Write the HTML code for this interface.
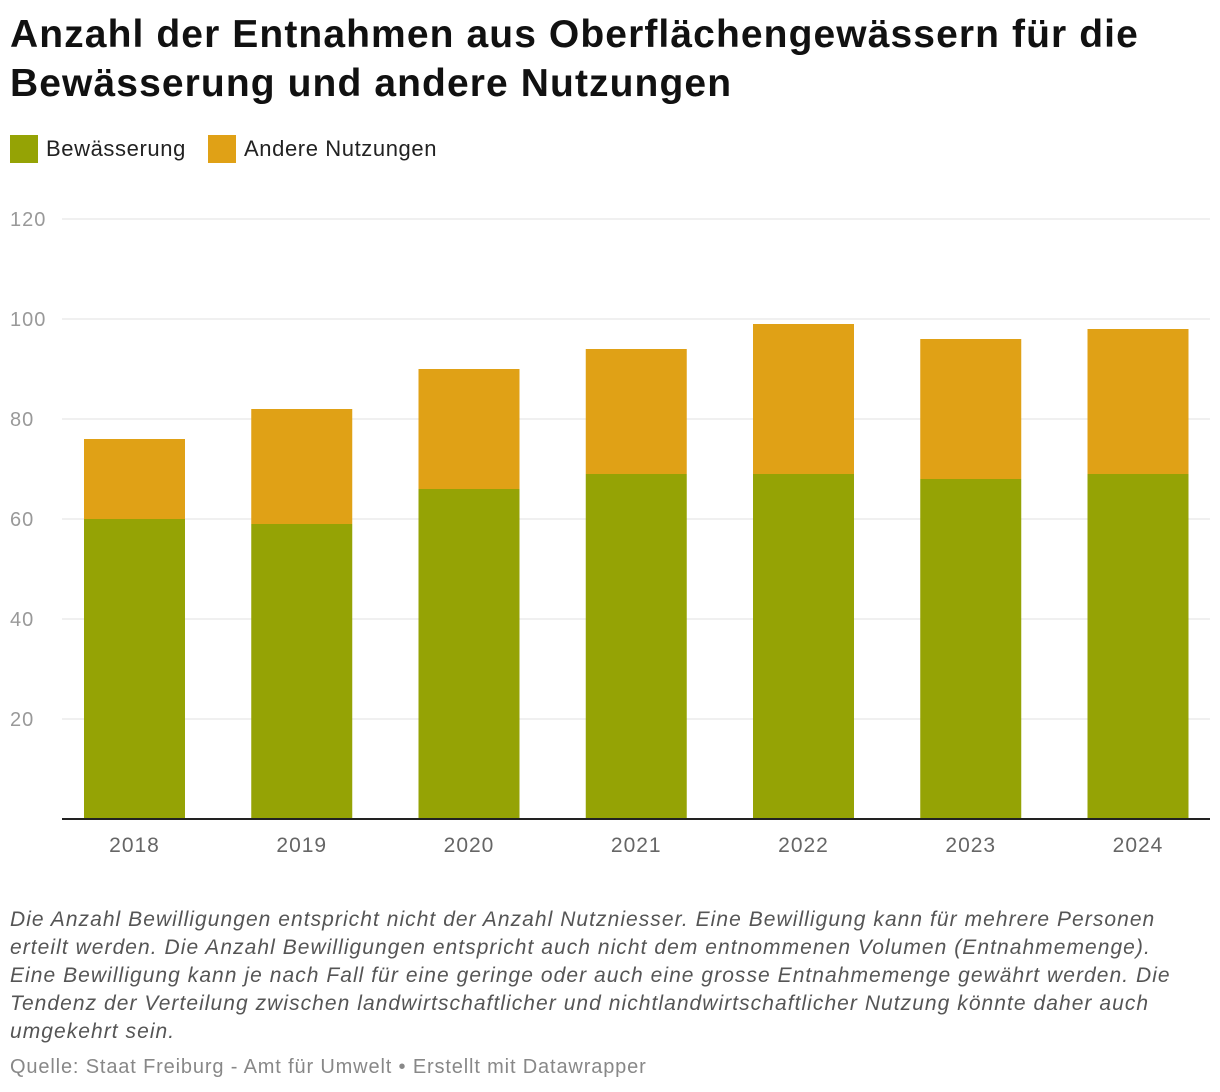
<!DOCTYPE html>
<html><head><meta charset="utf-8"><style>
body{margin:0;width:1220px;height:1092px;background:#fff;font-family:"Liberation Sans",sans-serif;position:relative;overflow:hidden}
h1{position:absolute;left:10px;top:10px;margin:0;font-size:39px;line-height:49px;font-weight:bold;color:#111;width:1210px;letter-spacing:1.1px}
.leg{position:absolute;top:135px;font-size:22px;color:#222;display:flex;align-items:center;letter-spacing:0.6px}
.sw{width:28px;height:28px;margin-right:8px;display:inline-block}
.note{position:absolute;left:10px;top:906px;width:1185px;font-size:21px;line-height:28px;font-style:italic;color:#555;letter-spacing:1.05px}
.src{position:absolute;left:10px;top:1056px;font-size:20px;color:#888;letter-spacing:0.85px}
</style></head><body>
<h1>Anzahl der Entnahmen aus Oberflächengewässern für die Bewässerung und andere Nutzungen</h1>
<div class="leg" style="left:10px"><span class="sw" style="background:#95a305"></span>Bewässerung</div>
<div class="leg" style="left:208px"><span class="sw" style="background:#e0a116"></span>Andere Nutzungen</div>
<svg id="chart" width="1220" height="880" style="position:absolute;left:0;top:0"></svg>
<div class="note">Die Anzahl Bewilligungen entspricht nicht der Anzahl Nutzniesser. Eine Bewilligung kann für mehrere Personen erteilt werden. Die Anzahl Bewilligungen entspricht auch nicht dem entnommenen Volumen (Entnahmemenge). Eine Bewilligung kann je nach Fall für eine geringe oder auch eine grosse Entnahmemenge gewährt werden. Die Tendenz der Verteilung zwischen landwirtschaftlicher und nichtlandwirtschaftlicher Nutzung könnte daher auch umgekehrt sein.</div>
<div class="src">Quelle: Staat Freiburg - Amt für Umwelt • Erstellt mit Datawrapper</div>
<script>
const years=["2018","2019","2020","2021","2022","2023","2024"];
const irrigation=[60,59,66,69,69,68,69];
const other=[16,23,24,25,30,28,29];
const yTicks=[20,40,60,80,100,120];
const NS="http://www.w3.org/2000/svg";
const svg=document.getElementById('chart');
const y=v=>819-v*5;
const xc=i=>134.5+i*167.25;
const bw=101;
function mk(t,a){const e=document.createElementNS(NS,t);for(const k in a)e.setAttribute(k,a[k]);svg.appendChild(e);return e;}
yTicks.forEach(t=>{
 const l=mk('line',{x1:62,x2:1210,y1:y(t),y2:y(t),stroke:'#e0e0e0','stroke-width':1});
 
 
 const tx=mk('text',{x:10,y:y(t)+7,'font-size':20,fill:'#999','font-family':'Liberation Sans, sans-serif','letter-spacing':1});
 tx.textContent=t;
 
 
});
years.forEach((yr,i)=>{
 const g=mk('rect',{x:xc(i)-bw/2,y:y(irrigation[i]),width:bw,height:irrigation[i]*5,fill:'#95a305'});
 
 
 const o=mk('rect',{x:xc(i)-bw/2,y:y(irrigation[i]+other[i]),width:bw,height:other[i]*5,fill:'#e0a116'});
 
 
 const t=mk('text',{x:xc(i),y:852,'font-size':21,fill:'#666','text-anchor':'middle','font-family':'Liberation Sans, sans-serif','letter-spacing':1});
 t.textContent=yr;
 
 
});
const b=mk('line',{x1:62,x2:1210,y1:819,y2:819,stroke:'#222','stroke-width':2});


</script>
</body></html>
